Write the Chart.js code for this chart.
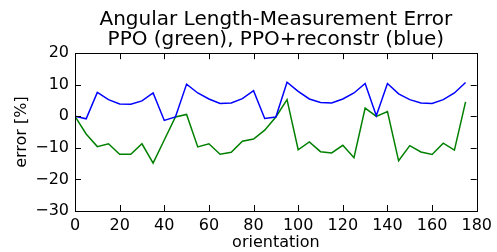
<!DOCTYPE html>
<html>
<head>
<meta charset="utf-8">
<script src="https://cdn.jsdelivr.net/npm/chart.js@4/dist/chart.umd.min.js"></script>
<style>
  html, body { margin: 0; padding: 0; background: #fff; }
  #wrap { width: 497px; height: 252px; }
</style>
</head>
<body>
<div id="wrap"><canvas id="chart" width="497" height="252"></canvas></div>
<script>
// orientation in degrees, every 5
const orientation = [0, 5, 10, 15, 20, 25, 30, 35, 40, 45, 50, 55, 60, 65, 70, 75, 80, 85,
  90, 95, 100, 105, 110, 115, 120, 125, 130, 135, 140, 145, 150, 155, 160, 165, 170, 175];

const ppoGreen = [0, -5.6, -9.6, -8.7, -12, -12, -8.7, -14.8, -7.5, -0.2, 0.6, -9.7, -8.7, -12, -11.4, -7.9, -7.2, -4.4,
  -0.2, 5.3, -10.6, -8.1, -11.2, -11.6, -9.2, -13.1, 2.6, 0, 1.5, -14.1, -9.3, -11.3, -12.1, -8.5, -10.7, 4.6];

const ppoReconstrBlue = [0, -0.8, 7.6, 5.3, 3.9, 3.8, 4.9, 7.4, -1.3, -0.2, 10.2, 7.4, 5.5, 4.1, 4.2, 5.6, 8.1, -0.7,
  -0.2, 10.8, 7.9, 5.5, 4.4, 4.2, 5.5, 7.4, 10.4, 0.2, 10.4, 7.1, 5.3, 4.2, 4.1, 5.3, 7.4, 10.7];

const xTicks = [0, 20, 40, 60, 80, 100, 120, 140, 160, 180];
const yTicks = [-30, -20, -10, 0, 10, 20];

const toPoints = (ys) => ys.map((y, i) => ({ x: orientation[i], y: y }));
const fmt = (v) => String(v).replace("-", "\u2212");

// matplotlib style: frame + inward ticks on all sides
const framePlugin = {
  id: "frame",
  afterDatasetsDraw(chart) {
    const { ctx, chartArea: a, scales } = chart;
    const len = 6;
    ctx.save();
    ctx.strokeStyle = "#000";
    ctx.lineWidth = 1;
    ctx.beginPath();
    xTicks.forEach((t) => {
      const px = Math.round(scales.x.getPixelForValue(t)) + 0.5;
      ctx.moveTo(px, a.bottom); ctx.lineTo(px, a.bottom - len);
      ctx.moveTo(px, a.top); ctx.lineTo(px, a.top + len);
    });
    yTicks.forEach((t) => {
      const py = Math.round(scales.y.getPixelForValue(t)) + 0.5;
      ctx.moveTo(a.left, py); ctx.lineTo(a.left + len, py);
      ctx.moveTo(a.right, py); ctx.lineTo(a.right - len, py);
    });
    ctx.stroke();
    ctx.strokeRect(Math.round(a.left) + 0.5, Math.round(a.top) + 0.5,
      Math.round(a.right - a.left), Math.round(a.bottom - a.top));
    ctx.restore();
  },
};

Chart.defaults.font.family = "'DejaVu Sans', sans-serif";
Chart.defaults.color = "#000";

new Chart(document.getElementById("chart"), {
  type: "line",
  data: {
    datasets: [
      {
        label: "PPO+reconstr",
        data: toPoints(ppoReconstrBlue),
        borderColor: "#0000ff",
        borderWidth: 1.5,
        pointRadius: 0,
        tension: 0,
        fill: false,
      },
      {
        label: "PPO",
        data: toPoints(ppoGreen),
        borderColor: "#008000",
        borderWidth: 1.5,
        pointRadius: 0,
        tension: 0,
        fill: false,
      },
    ],
  },
  options: {
    responsive: false,
    animation: false,
    layout: { padding: { left: 0, right: 20, top: 0, bottom: 0 } },
    plugins: {
      legend: { display: false },
      tooltip: { enabled: false },
      title: {
        display: true,
        fullSize: false,
        text: ["Angular Length-Measurement Error", "PPO (green), PPO+reconstr (blue)"],
        font: { size: 20, weight: "normal", lineHeight: 1.03 },
        color: "#000",
        padding: { top: 9, bottom: 3 },
        align: "center",
        position: "top",
      },
    },
    scales: {
      x: {
        type: "linear",
        min: 0,
        max: 180,
        afterBuildTicks: (scale) => { scale.ticks = xTicks.map((v) => ({ value: v })); },
        afterFit: (scale) => { scale.height = 41; },
        grid: { display: false, drawTicks: false },
        border: { display: false },
        ticks: { font: { size: 16 }, padding: 5, maxRotation: 0, autoSkip: false, callback: fmt },
        title: { display: true, text: "orientation", font: { size: 16 }, padding: 0 },
      },
      y: {
        type: "linear",
        min: -30,
        max: 20,
        afterBuildTicks: (scale) => { scale.ticks = yTicks.map((v) => ({ value: v })); },
        afterFit: (scale) => { scale.width = 75; },
        grid: { display: false, drawTicks: false },
        border: { display: false },
        ticks: { font: { size: 16 }, padding: 6, autoSkip: false, callback: fmt },
        title: { display: true, text: "error [%]", font: { size: 16 }, padding: { top: 12, bottom: 0 } },
      },
    },
  },
  plugins: [framePlugin],
});
</script>
</body>
</html>
